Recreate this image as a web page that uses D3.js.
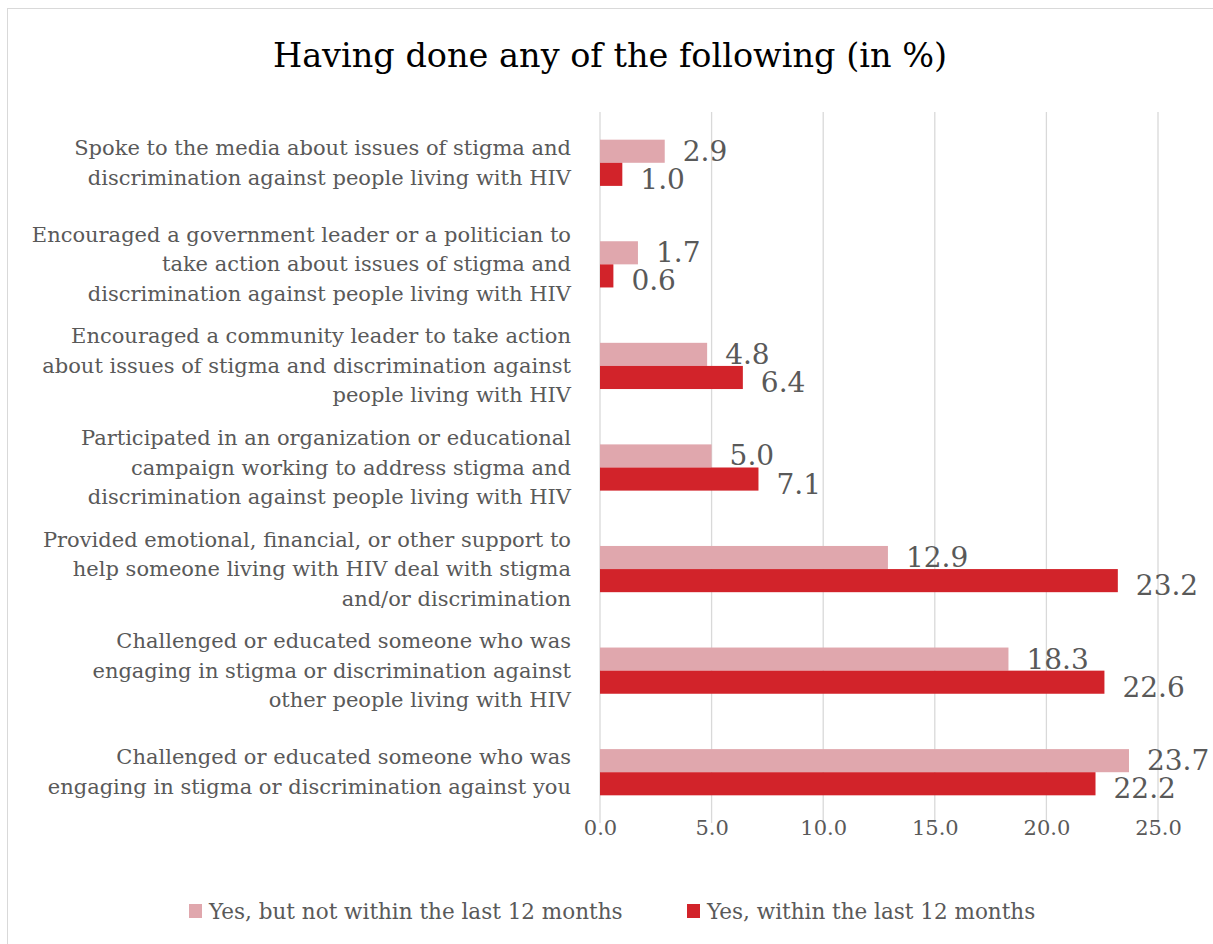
<!DOCTYPE html>
<html><head><meta charset="utf-8">
<script src="https://cdn.jsdelivr.net/npm/d3@7"></script>
<style>body{margin:0;background:#fff;} svg{display:block;}</style>
</head><body>
<svg id="chart" width="1213" height="944"></svg>
<script>
const categories = [
  ["Spoke to the media about issues of stigma and","discrimination against people living with HIV"],
  ["Encouraged a government leader or a politician to","take action about issues of stigma and","discrimination against people living with HIV"],
  ["Encouraged a community leader to take action","about issues of stigma and discrimination against","people living with HIV"],
  ["Participated in an organization or educational","campaign working to address stigma and","discrimination against people living with HIV"],
  ["Provided emotional, financial, or other support to","help someone living with HIV deal with stigma","and/or discrimination"],
  ["Challenged or educated someone who was","engaging in stigma or discrimination against","other people living with HIV"],
  ["Challenged or educated someone who was","engaging in stigma or discrimination against you"]
];
const notLast12 = [2.9, 1.7, 4.8, 5.0, 12.9, 18.3, 23.7];
const within12 = [1.0, 0.6, 6.4, 7.1, 23.2, 22.6, 22.2];
const seriesNames = ["Yes, but not within the last 12 months", "Yes, within the last 12 months"];
const xTicks = [0, 5, 10, 15, 20, 25];
const title = "Having done any of the following (in %)";

const colors = ["#E0A7AD", "#D2232A"];
const font = "'DejaVu Serif', serif";
const svg = d3.select("#chart");

svg.append("rect").attr("x", 7.5).attr("y", 8.5).attr("width", 1212).attr("height", 940)
  .attr("fill", "#fff").attr("stroke", "#d9d9d9").attr("stroke-width", 1);

svg.append("text").attr("x", 610).attr("y", 67).attr("text-anchor", "middle")
  .attr("font-family", font).attr("font-size", 33.5).attr("fill", "#000").text(title);

const x = d3.scaleLinear().domain([0, 25]).range([600, 1158]);
const idx = d3.range(categories.length);
const y = d3.scaleBand().domain(idx).range([112, 823]).paddingInner(0.545).paddingOuter(0.2725);
const ySub = d3.scaleBand().domain([0, 1]).range([0, y.bandwidth()]);

// gridlines
const grid = svg.append("g");
grid.selectAll("line").data(xTicks).join("line")
  .attr("x1", d => x(d)).attr("x2", d => x(d))
  .attr("y1", 112).attr("y2", 823)
  .attr("stroke", "#d9d9d9").attr("stroke-width", 1.3);

// x axis tick labels via d3 axis
const xAxis = d3.axisBottom(x).tickValues(xTicks).tickFormat(d3.format(".1f")).tickSize(0).tickPadding(0);
const gx = svg.append("g").attr("transform", "translate(0,820)").call(xAxis);
gx.select(".domain").remove();
gx.selectAll("text").attr("font-family", font).attr("font-size", 21).attr("fill", "#595959").attr("dy", "0.71em");

const series = [notLast12, within12];
series.forEach((vals, s) => {
  const g = svg.append("g");
  g.selectAll("rect").data(vals).join("rect")
    .attr("x", x(0))
    .attr("y", (d, i) => y(i) + ySub(s))
    .attr("width", d => x(d) - x(0))
    .attr("height", ySub.bandwidth())
    .attr("fill", colors[s]);
  g.selectAll("text").data(vals).join("text")
    .attr("x", d => x(d) + 18)
    .attr("y", (d, i) => y(i) + ySub(s) + ySub.bandwidth() / 2 + (s === 1 ? 5 : 0))
    .attr("dominant-baseline", "central")
    .attr("font-family", font).attr("font-size", 28).attr("fill", "#595959")
    .text(d => d3.format(".1f")(d));
});

// category labels
const lh = 29.5;
const cl = svg.append("g");
categories.forEach((lines, i) => {
  const cy = y(i) + y.bandwidth() / 2;
  const t = cl.append("text").attr("text-anchor", "end")
    .attr("font-family", font).attr("font-size", 21).attr("fill", "#595959");
  lines.forEach((ln, j) => {
    t.append("tspan").attr("x", 571)
      .attr("y", cy + (j - (lines.length - 1) / 2) * lh)
      .attr("dominant-baseline", "central").text(ln);
  });
});

// legend
const legX = [189, 687];
const lg = svg.append("g");
seriesNames.forEach((n, s) => {
  lg.append("rect").attr("x", legX[s]).attr("y", 904).attr("width", 13).attr("height", 14).attr("fill", colors[s]);
  lg.append("text").attr("x", legX[s] + 20).attr("y", 911).attr("dominant-baseline", "central")
    .attr("font-family", font).attr("font-size", 21.5).attr("fill", "#595959").text(n);
});
</script>
</body></html>
